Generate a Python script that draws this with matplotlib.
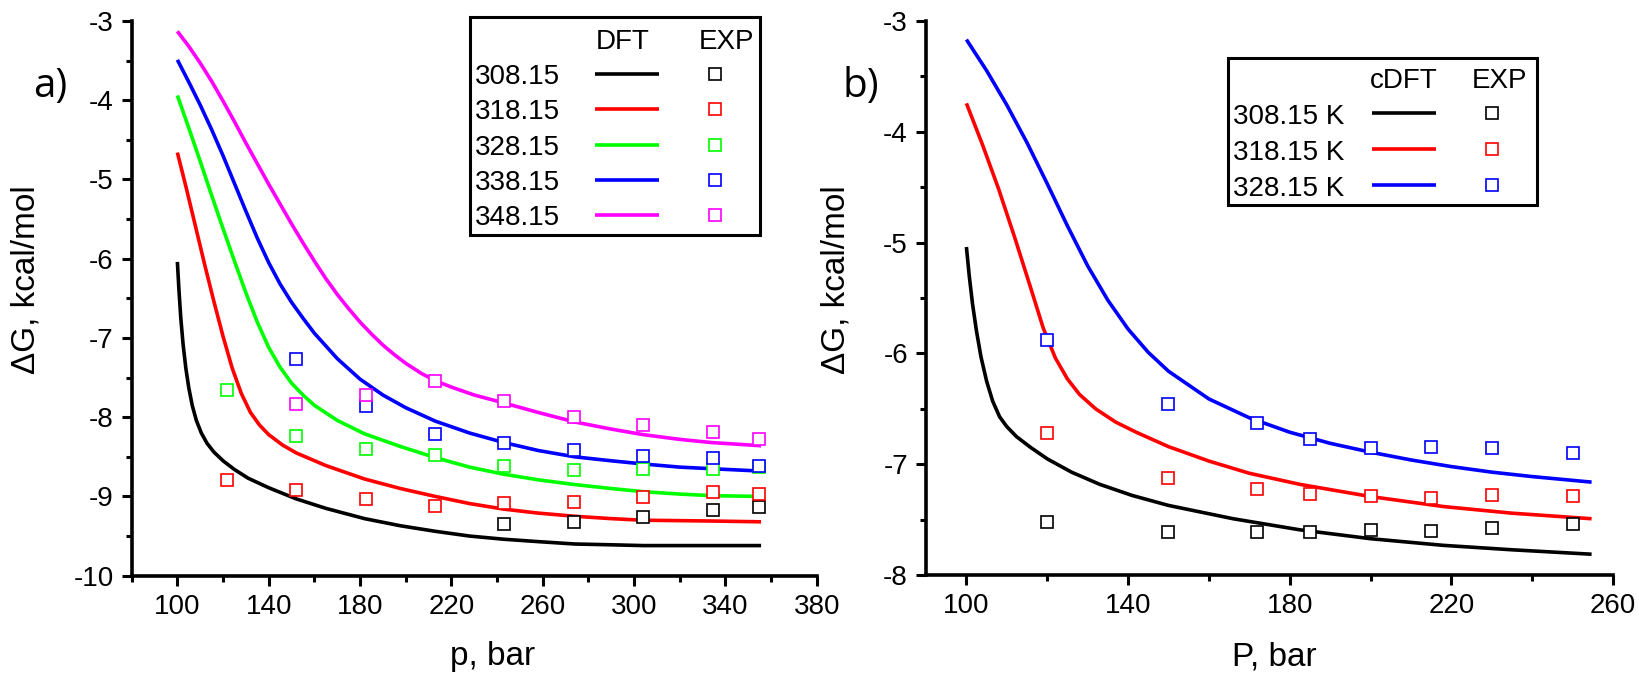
import numpy as np
import matplotlib
matplotlib.use("Agg")
import matplotlib.pyplot as plt
from matplotlib.ticker import MultipleLocator
from matplotlib.lines import Line2D
from matplotlib.patches import Rectangle

plt.rcParams['font.family'] = ['Liberation Sans', 'DejaVu Sans']
plt.rcParams['axes.unicode_minus'] = False

# ---------------- data: panel a ----------------
temps_a = ["308.15", "318.15", "328.15", "338.15", "348.15"]
colors_a = ["#000000", "#ff0000", "#00ff00", "#0000ff", "#ff00ff"]

# DFT curves (p in bar, dG in kcal/mol)
dft_a_p_308 = [100.0, 100.7, 101.5, 102.5, 103.7, 105.0, 106.5, 108.3, 110.5, 113.0, 116.0, 120.0, 125.0, 131.0, 140.0, 152.0, 165.0, 182.0, 197.7, 213.0, 228.0, 243.0, 258.0, 274.0, 290.0, 304.0, 334.0, 355.6]
dft_a_g_308 = [-6.04, -6.40, -6.75, -7.08, -7.38, -7.63, -7.85, -8.04, -8.20, -8.33, -8.44, -8.55, -8.66, -8.77, -8.89, -9.03, -9.15, -9.28, -9.37, -9.44, -9.50, -9.54, -9.57, -9.60, -9.61, -9.62, -9.62, -9.62]
dft_a_p_318 = [100.0, 104.0, 108.0, 112.0, 116.0, 120.0, 124.0, 128.0, 132.0, 136.0, 140.0, 146.0, 152.0, 165.0, 182.0, 197.7, 213.0, 228.0, 243.0, 258.0, 274.0, 290.0, 304.0, 334.0, 355.6]
dft_a_g_318 = [-4.66, -5.12, -5.60, -6.08, -6.54, -6.98, -7.38, -7.70, -7.94, -8.10, -8.22, -8.35, -8.45, -8.61, -8.78, -8.90, -9.00, -9.09, -9.16, -9.21, -9.25, -9.28, -9.30, -9.31, -9.32]
dft_a_p_328 = [100.0, 105.0, 110.0, 115.0, 120.0, 125.0, 130.0, 135.0, 140.0, 145.0, 150.0, 155.0, 160.0, 170.0, 182.0, 197.7, 213.0, 228.0, 243.0, 258.0, 274.0, 290.0, 304.0, 320.0, 334.0, 355.6]
dft_a_g_328 = [-3.94, -4.35, -4.77, -5.20, -5.62, -6.03, -6.43, -6.80, -7.12, -7.37, -7.57, -7.72, -7.85, -8.04, -8.21, -8.37, -8.51, -8.63, -8.72, -8.79, -8.85, -8.90, -8.94, -8.97, -8.99, -9.00]
dft_a_p_338 = [100.0, 105.0, 110.0, 115.0, 120.0, 125.0, 130.0, 135.0, 140.0, 145.0, 150.0, 155.0, 160.0, 170.0, 180.0, 190.0, 200.0, 213.0, 228.0, 243.0, 258.0, 274.0, 290.0, 304.0, 320.0, 334.0, 355.6]
dft_a_g_338 = [-3.49, -3.77, -4.06, -4.37, -4.70, -5.05, -5.40, -5.74, -6.05, -6.32, -6.55, -6.75, -6.94, -7.26, -7.52, -7.72, -7.88, -8.05, -8.20, -8.32, -8.42, -8.50, -8.55, -8.59, -8.63, -8.65, -8.68]
dft_a_p_348 = [100.0, 105.0, 110.0, 115.0, 120.0, 125.0, 130.0, 135.0, 140.0, 145.0, 150.0, 155.0, 160.0, 165.0, 170.0, 175.0, 180.0, 185.0, 190.0, 195.0, 200.0, 207.0, 213.0, 220.0, 230.0, 243.0, 258.0, 274.0, 290.0, 304.0, 320.0, 334.0, 355.6]
dft_a_g_348 = [-3.13, -3.32, -3.53, -3.76, -4.01, -4.27, -4.54, -4.80, -5.06, -5.31, -5.56, -5.80, -6.03, -6.25, -6.45, -6.63, -6.80, -6.95, -7.09, -7.21, -7.32, -7.45, -7.54, -7.62, -7.72, -7.82, -7.94, -8.06, -8.15, -8.22, -8.28, -8.32, -8.36]

# experimental points
exp_a_p = [121.6, 152.0, 182.4, 212.8, 243.2, 273.6, 304.0, 334.4, 354.6]
exp_a_308 = [np.nan, np.nan, np.nan, np.nan, -9.35, -9.325, -9.26, -9.17, -9.13]
exp_a_318 = [-8.79, -8.92, -9.03, -9.12, -9.085, -9.07, -9.01, -8.95, -8.97]
exp_a_328 = [-7.66, -8.24, -8.40, -8.48, -8.62, -8.67, -8.655, -8.655, -8.63]
exp_a_338 = [np.nan, -7.26, -7.855, -8.21, -8.33, -8.41, -8.49, -8.52, -8.61]
exp_a_348 = [np.nan, -7.83, -7.72, -7.54, -7.79, -8.00, -8.095, -8.19, -8.27]

# ---------------- data: panel b ----------------
temps_b = ["308.15 K", "318.15 K", "328.15 K"]
colors_b = ["#000000", "#ff0000", "#0000ff"]

dft_b_p_308 = [100.0, 100.7, 101.5, 102.5, 103.6, 105.0, 106.5, 108.2, 110.0, 112.4, 116.0, 120.0, 126.0, 133.0, 141.0, 150.0, 166.0, 182.5, 200.0, 218.0, 235.0, 254.7]
dft_b_g_308 = [-5.04, -5.30, -5.55, -5.80, -6.03, -6.25, -6.43, -6.57, -6.66, -6.75, -6.85, -6.95, -7.07, -7.18, -7.28, -7.37, -7.49, -7.59, -7.67, -7.73, -7.77, -7.81]
dft_b_p_318 = [100.0, 104.0, 108.0, 112.0, 116.0, 119.0, 122.0, 125.0, 128.0, 132.0, 137.0, 142.0, 150.0, 160.0, 170.0, 182.5, 200.0, 218.0, 235.0, 254.7]
dft_b_g_318 = [-3.745, -4.12, -4.52, -4.96, -5.42, -5.77, -6.04, -6.23, -6.37, -6.50, -6.62, -6.71, -6.84, -6.97, -7.08, -7.18, -7.29, -7.38, -7.44, -7.49]
dft_b_p_328 = [100.0, 105.0, 110.0, 115.0, 120.0, 125.0, 130.0, 135.0, 140.0, 145.0, 150.0, 160.0, 170.0, 180.0, 190.0, 200.0, 210.0, 220.0, 230.0, 240.0, 254.7]
dft_b_g_328 = [-3.17, -3.45, -3.76, -4.10, -4.47, -4.85, -5.21, -5.52, -5.78, -5.99, -6.16, -6.41, -6.58, -6.71, -6.81, -6.89, -6.96, -7.02, -7.07, -7.11, -7.16]

exp_b_p = [120, 150, 172, 185, 200, 215, 230, 250]
exp_b_308 = [-7.52, -7.61, -7.61, -7.61, -7.59, -7.60, -7.57, -7.54]
exp_b_318 = [-6.715, -7.12, -7.225, -7.265, -7.286, -7.30, -7.277, -7.286]
exp_b_328 = [-5.88, -6.46, -6.625, -6.775, -6.856, -6.847, -6.853, -6.895]

# ---------------- figure ----------------
W, H = 1639, 675
fig = plt.figure(figsize=(W / 100, H / 100), dpi=100)


def fx(x):
    return x / W


def fy(y):
    return 1 - y / H


ax_a = fig.add_axes([fx(131.7), fy(575.7), (816.8 - 131.7) / W, (575.7 - 21.0) / H])
ax_b = fig.add_axes([fx(926.0), fy(575.3), (1613.0 - 926.0) / W, (575.3 - 20.7) / H])

LW = 2.6
MS = 9
MEW = 1.2


def style(ax):
    for s in ("top", "right"):
        ax.spines[s].set_visible(False)
    for s in ("left", "bottom"):
        ax.spines[s].set_linewidth(2.6)
    ax.tick_params(which="major", direction="out", length=7, width=2.2, labelsize=20, pad=6)
    ax.tick_params(which="minor", direction="out", length=4, width=2.2)


dft_a = [(dft_a_p_308, dft_a_g_308), (dft_a_p_318, dft_a_g_318), (dft_a_p_328, dft_a_g_328),
         (dft_a_p_338, dft_a_g_338), (dft_a_p_348, dft_a_g_348)]
exp_a = [exp_a_308, exp_a_318, exp_a_328, exp_a_338, exp_a_348]
for (p, g), c in zip(dft_a, colors_a):
    ax_a.plot(p, g, color=c, lw=LW, zorder=2, solid_capstyle="butt", solid_joinstyle="round")
for e, c in zip(exp_a, colors_a):
    ax_a.plot(exp_a_p, e, ls="none", marker="s", ms=MS, mfc="white", mec=c, mew=MEW, zorder=3)

ax_a.set_xlim(80, 380)
ax_a.set_ylim(-10, -3)
ax_a.set_xticks([100, 140, 180, 220, 260, 300, 340, 380])
ax_a.xaxis.set_minor_locator(MultipleLocator(20))
ax_a.yaxis.set_major_locator(MultipleLocator(1))
ax_a.yaxis.set_minor_locator(MultipleLocator(0.5))
style(ax_a)

dft_b = [(dft_b_p_308, dft_b_g_308), (dft_b_p_318, dft_b_g_318), (dft_b_p_328, dft_b_g_328)]
exp_b = [exp_b_308, exp_b_318, exp_b_328]
for (p, g), c in zip(dft_b, colors_b):
    ax_b.plot(p, g, color=c, lw=LW, zorder=2, solid_capstyle="butt", solid_joinstyle="round")
for e, c in zip(exp_b, colors_b):
    ax_b.plot(exp_b_p, e, ls="none", marker="s", ms=MS, mfc="white", mec=c, mew=MEW, zorder=3)

ax_b.set_xlim(90, 260)
ax_b.set_ylim(-8, -3)
ax_b.set_xticks([100, 140, 180, 220, 260])
ax_b.xaxis.set_minor_locator(MultipleLocator(20))
ax_b.yaxis.set_major_locator(MultipleLocator(1))
ax_b.yaxis.set_minor_locator(MultipleLocator(0.5))
style(ax_b)

# axis labels
fig.text(fx(26), fy(280), "ΔG, kcal/mol", rotation=90, ha="center", va="center", fontsize=24)
fig.text(fx(836), fy(280), "ΔG, kcal/mol", rotation=90, ha="center", va="center", fontsize=24)
fig.text(fx(493), fy(665), "p, bar", ha="center", va="baseline", fontsize=24)
fig.text(fx(1274), fy(665), "P, bar", ha="center", va="baseline", fontsize=24)

# panel letters
fig.text(fx(33), fy(97), "a)", ha="left", va="baseline", fontsize=29, family=["Open Sans", "DejaVu Sans"])
fig.text(fx(842), fy(97), "b)", ha="left", va="baseline", fontsize=29, family=["Open Sans", "DejaVu Sans"])


# ---------------- custom legends ----------------
def legend_box(x0, y0, x1, y1):
    fig.add_artist(Rectangle((fx(x0), fy(y1)), (x1 - x0) / W, (y1 - y0) / H,
                             transform=fig.transFigure, fill=True, fc="white",
                             ec="black", lw=2.2, zorder=5))


def legend_row(label, color, x_text, yc, base, lx0, lx1, mx):
    fig.text(fx(x_text), fy(base), label, ha="left", va="baseline", fontsize=20, zorder=6)
    fig.add_artist(Line2D([fx(lx0), fx(lx1)], [fy(yc), fy(yc)], transform=fig.transFigure,
                          color=color, lw=LW, zorder=6, solid_capstyle="butt"))
    fig.add_artist(Line2D([fx(mx)], [fy(yc)], transform=fig.transFigure, ls="none",
                          marker="s", ms=MS, mfc="white", mec=color, mew=MEW, zorder=6))


# legend a
legend_box(470, 17.3, 760, 235)
fig.text(fx(622.7), fy(49.3), "DFT", ha="center", va="baseline", fontsize=20, zorder=6)
fig.text(fx(726.7), fy(49.3), "EXP", ha="center", va="baseline", fontsize=20, zorder=6)
rows_a_y = [74.0, 109.3, 144.7, 180.0, 215.3]
for lab, c, yc in zip(temps_a, colors_a, rows_a_y):
    legend_row(lab, c, 475, yc, yc + 10, 595, 659, 715)

# legend b
legend_box(1228.3, 58.3, 1536.7, 205)
fig.text(fx(1404), fy(88.3), "cDFT", ha="center", va="baseline", fontsize=20, zorder=6)
fig.text(fx(1499), fy(88.3), "EXP", ha="center", va="baseline", fontsize=20, zorder=6)
rows_b_y = [113.3, 149.0, 185.0]
for lab, c, yc in zip(temps_b, colors_b, rows_b_y):
    legend_row(lab, c, 1233.3, yc, yc + 10.5, 1371.7, 1436, 1492.3)

fig.savefig("out.png", dpi=100)
